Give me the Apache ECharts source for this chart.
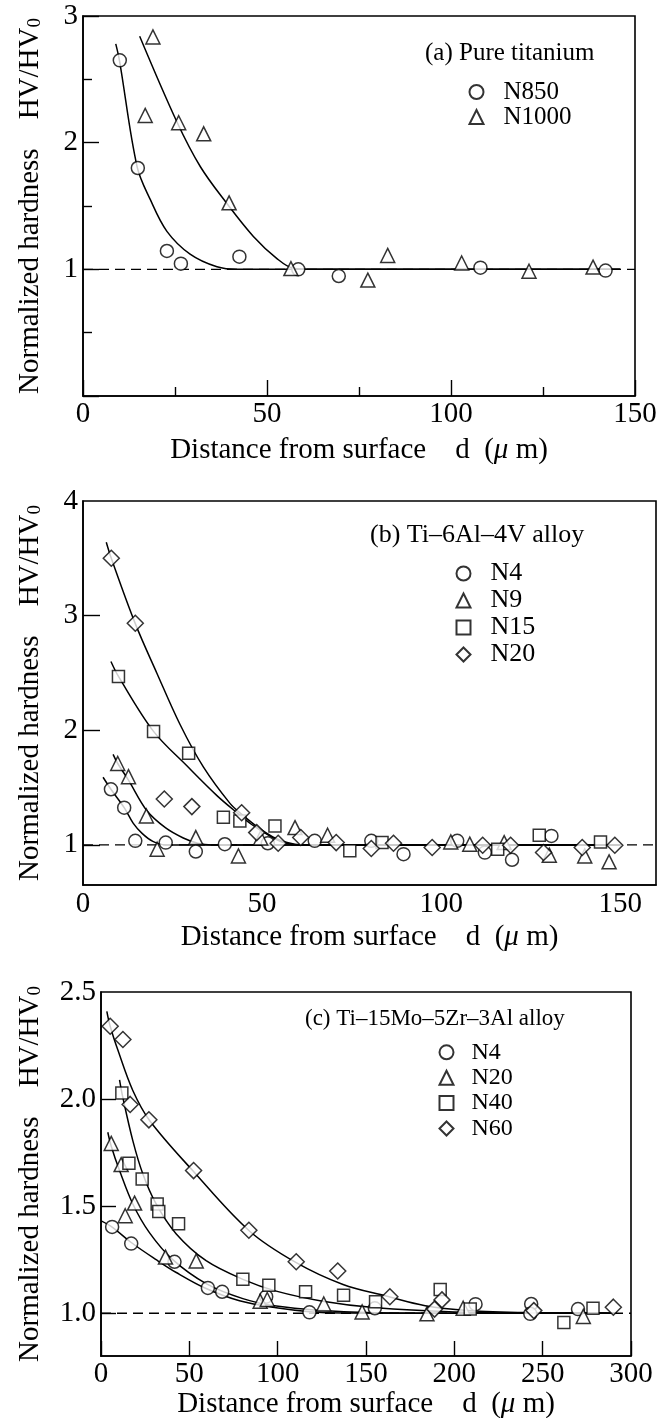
<!DOCTYPE html>
<html>
<head>
<meta charset="utf-8">
<script src="https://cdn.jsdelivr.net/npm/echarts@6/dist/echarts.min.js"></script>
<style>
html,body{margin:0;padding:0;background:#fff;}
#c{width:664px;height:1418px;}
</style>
</head>
<body>
<div id="c"></div>
<script>
const FONT = '"Liberation Serif","Times New Roman",serif';

// ---------- Panel (a) Pure titanium ----------
const a_N850 = [[10.0,2.65],[14.9,1.80],[22.8,1.145],[26.6,1.045],[42.5,1.10],[58.5,1.0],[69.5,0.947],[108,1.013],[142,0.99]];
const a_N1000 = [[19.0,2.835],[16.9,2.215],[26.0,2.157],[32.8,2.07],[39.7,1.525],[56.5,1.006],[77.4,0.915],[82.8,1.11],[102.9,1.05],[121.2,0.985],[138.6,1.018]];
const a_fit850 = [[8.9,2.78],[9.9,2.65],[14.7,1.81],[18.3,1.55],[22.8,1.30],[29.1,1.12],[36.4,1.02],[42,1.0],[80,1.0],[146,1.0]];
const a_fit1000 = [[15.4,2.84],[25.5,2.165],[31.9,1.81],[39.1,1.52],[46.3,1.26],[52.7,1.085],[57.2,1.008],[62,1.0],[100,1.0],[146,1.0]];
const a_ref = [[0,1],[150,1]];

// ---------- Panel (b) Ti-6Al-4V alloy ----------
const b_N4 = [[7.8,1.485],[11.5,1.325],[14.6,1.035],[23.1,1.02],[31.5,0.942],[39.6,1.006],[51.6,1.014],[64.7,1.035],[80.5,1.035],[89.5,0.919],[104.5,1.035],[112.2,0.933],[119.8,0.87],[130.8,1.078]];
const b_N9 = [[9.7,1.71],[12.7,1.595],[17.7,1.252],[20.7,0.962],[31.5,1.064],[43.4,0.904],[49.6,1.06],[59.2,1.151],[68.3,1.084],[102.7,1.026],[108,1.006],[117.6,1.02],[130.2,0.91],[140.1,0.904],[146.9,0.852]];
const b_N15 = [[9.9,2.47],[19.7,1.99],[29.5,1.80],[39.2,1.24],[43.8,1.209],[53.6,1.165],[74.5,0.948],[83.5,1.02],[115.8,0.962],[127.4,1.084],[144.5,1.026]];
const b_N20 = [[7.9,3.50],[14.6,2.934],[22.7,1.40],[30.4,1.334],[44.3,1.28],[48.5,1.107],[54.5,1.014],[60.8,1.064],[70.7,1.02],[80.5,0.968],[86.7,1.014],[97.5,0.977],[111.6,0.997],[119.4,0.997],[128.6,0.933],[139.4,0.977],[148.5,0.997]];
const b_fit4 = [[5.6,1.59],[7.8,1.485],[11.5,1.325],[14,1.19],[16.5,1.10],[19.5,1.03],[23,1.0],[60,1.0],[150,1.0]];
const b_fit9 = [[8.4,1.79],[9.7,1.71],[12.7,1.565],[17.8,1.30],[23,1.15],[28,1.06],[32,1.015],[36,1.0],[80,1.0],[150,1.0]];
const b_fit15 = [[7.8,2.60],[9.9,2.47],[19.7,1.99],[29.0,1.69],[37.4,1.43],[43.4,1.27],[47,1.18],[52,1.08],[56,1.02],[60,1.0],[100,1.0],[150,1.0]];
const b_fit20 = [[6.5,3.64],[7.9,3.50],[14.6,2.93],[20.6,2.50],[27.1,2.05],[33.6,1.68],[41.1,1.36],[44.6,1.26],[49,1.15],[53,1.07],[57,1.02],[61,1.0],[100,1.0],[150,1.0]];
const b_ref = [[0,1],[160,1]];

// ---------- Panel (c) Ti-15Mo-5Zr-3Al alloy ----------
const c_N4 = [[6.3,1.403],[17.1,1.325],[41.6,1.24],[60.5,1.118],[68.6,1.10],[93.5,1.077],[118,1.004],[155,1.023],[212,1.042],[243.5,1.043],[243,0.997],[270,1.019]];
const c_N20 = [[5.8,1.793],[11.4,1.694],[13.7,1.455],[19.0,1.514],[36.5,1.262],[53.9,1.244],[90.1,1.056],[94.1,1.064],[126.1,1.043],[147.8,1.006],[184.5,0.997],[205,1.023],[273,0.985]];
const c_N40 = [[11.8,2.028],[15.8,1.70],[23.3,1.627],[31.8,1.51],[32.7,1.475],[43.9,1.418],[80.3,1.158],[95,1.13],[115.8,1.10],[137.3,1.084],[155.4,1.053],[192,1.111],[209,1.019],[262,0.957],[278.5,1.023]];
const c_N60 = [[5.2,2.34],[12.4,2.278],[16.5,1.975],[27.1,1.903],[52.4,1.666],[83.7,1.387],[110.5,1.24],[134,1.197],[163.5,1.077],[193,1.062],[188.8,1.019],[245,1.012],[290,1.028]];
const c_fit4 = [[0.1,1.431],[6.7,1.40],[17.1,1.33],[31.2,1.25],[42.6,1.19],[59.5,1.115],[78.4,1.058],[99.2,1.025],[118,1.007],[137,1.001],[200,1.0],[292,1.0]];
const c_fit20 = [[3.85,1.845],[5.8,1.78],[10.5,1.666],[18,1.51],[27.5,1.375],[40.6,1.25],[59.5,1.138],[80.3,1.068],[99.2,1.033],[125.5,1.012],[150,1.003],[200,1.0],[292,1.0]];
const c_fit40 = [[10.5,2.09],[12.3,2.01],[18,1.806],[23.7,1.65],[31.2,1.51],[42.6,1.37],[59.5,1.245],[80.3,1.158],[99.2,1.103],[125.5,1.056],[155.8,1.025],[200,1.006],[250,1.0],[292,1.0]];
const c_fit60 = [[3.3,2.41],[5.2,2.34],[9.5,2.23],[18,2.04],[27.5,1.90],[52,1.665],[84,1.384],[110.5,1.236],[137,1.134],[161.4,1.08],[183.5,1.035],[207.5,1.013],[243.5,1.003],[292,1.0]];
const c_ref = [[0,1],[300,1]];

// tick labels
const a_xLabels = [0,50,100,150], a_yLabels = [1,2,3];
const b_xLabels = [0,50,100,150], b_yLabels = [1,2,3,4];
const c_xLabels = [0,50,100,150,200,250,300], c_yLabels = [1.0,1.5,2.0,2.5];

const X_NAME = 'Distance from surface    d  ({mu|μ} m)';
const Y_NAME = 'Normalized hardness    HV/HV{sub|0}';

const black = '#000';
const lblStyle = {color: black, fontFamily: FONT, fontSize: 29};
const xNameStyle = {color: black, fontFamily: FONT, fontSize: 29, rich: {mu: {fontFamily: FONT, fontSize: 29, fontStyle: 'italic', color: black}}};
const yNameStyle = {color: black, fontFamily: FONT, fontSize: 29, rich: {sub: {fontFamily: FONT, fontSize: 19, color: black, padding: [10,0,0,0]}}};
const lineSt = {color: black, width: 1.6};
const tickSt = {color: black, width: 1.4};

function gridCfg(l, t, w, h) {
  return {left: l, top: t, width: w, height: h, show: true, borderColor: black, borderWidth: 1.6,
          backgroundColor: 'transparent', containLabel: false, outerBoundsMode: 'none'};
}

function scatter(name, data, symbol, size, gi) {
  return {name, type: 'scatter', xAxisIndex: gi, yAxisIndex: gi, data, symbol, symbolSize: size,
          itemStyle: {color: '#fff', borderColor: black, borderWidth: 1.5}, z: 5,
          emphasis: {disabled: true}, silent: true};
}
function curve(name, data, gi) {
  return {name, type: 'line', xAxisIndex: gi, yAxisIndex: gi, data, smooth: 0.35,
          symbol: 'none', lineStyle: {color: black, width: 1.5}, z: 3, silent: true};
}
function refLine(name, data, gi) {
  return {name, type: 'line', xAxisIndex: gi, yAxisIndex: gi, data, symbol: 'none',
          lineStyle: {color: black, width: 1.4, type: [10, 6]}, z: 2, silent: true};
}

const legendBase = {orient: 'vertical', padding: 0, itemWidth: 14, itemHeight: 14, selectedMode: false,
  formatter: n => n.split(':')[1]};

const option = {
  animation: false,
  backgroundColor: '#fff',
  title: [
    {text: '(a) Pure titanium', left: 425, top: 41, padding: 0,
     textStyle: {fontFamily: FONT, fontSize: 25, fontWeight: 'normal', color: black}},
    {text: '(b) Ti–6Al–4V alloy', left: 370, top: 522, padding: 0,
     textStyle: {fontFamily: FONT, fontSize: 26, fontWeight: 'normal', color: black}},
    {text: '(c) Ti–15Mo–5Zr–3Al alloy', left: 305, top: 1007, padding: 0,
     textStyle: {fontFamily: FONT, fontSize: 23, fontWeight: 'normal', color: black}}
  ],
  legend: [
    Object.assign({}, legendBase, {data: ['a:N850', 'a:N1000'], left: 468.5, top: 79.5, itemGap: 0,
      textStyle: {fontFamily: FONT, fontSize: 25, color: black, lineHeight: 25, padding: [0,0,0,15]}}),
    Object.assign({}, legendBase, {data: ['b:N4', 'b:N9', 'b:N15', 'b:N20'], left: 455.5, top: 560, itemGap: 0,
      textStyle: {fontFamily: FONT, fontSize: 26, color: black, lineHeight: 27, padding: [0,0,0,15]}}),
    Object.assign({}, legendBase, {data: ['c:N4', 'c:N20', 'c:N40', 'c:N60'], left: 438.5, top: 1039.6, itemGap: 0,
      textStyle: {fontFamily: FONT, fontSize: 24, color: black, lineHeight: 25.4, padding: [0,0,0,13]}})
  ],
  grid: [
    gridCfg(83, 16, 552, 380),
    gridCfg(83, 501, 573, 384),
    gridCfg(101, 992, 530, 364)
  ],
  xAxis: [
    {gridIndex: 0, type: 'value', min: 0, max: 150, interval: 50,
     axisLine: {lineStyle: lineSt}, splitLine: {show: false},
     axisTick: {inside: true, length: 16, lineStyle: tickSt},
     minorTick: {show: true, splitNumber: 2, length: 9, lineStyle: tickSt}, minorSplitLine: {show: false},
     axisLabel: Object.assign({margin: 4, customValues: a_xLabels}, lblStyle),
     name: X_NAME, nameLocation: 'middle', nameGap: 40, nameTextStyle: xNameStyle},
    {gridIndex: 1, type: 'value', min: 0, max: 160,
     axisLine: {lineStyle: lineSt}, splitLine: {show: false},
     axisTick: {show: false},
     axisLabel: Object.assign({margin: 5, customValues: b_xLabels}, lblStyle),
     name: X_NAME, nameLocation: 'middle', nameGap: 38, nameTextStyle: xNameStyle},
    {gridIndex: 2, type: 'value', min: 0, max: 300, interval: 50,
     axisLine: {lineStyle: lineSt}, splitLine: {show: false},
     axisTick: {inside: true, length: 15, lineStyle: tickSt},
     axisLabel: Object.assign({margin: 4, customValues: c_xLabels}, lblStyle),
     name: X_NAME, nameLocation: 'middle', nameGap: 34, nameTextStyle: xNameStyle}
  ],
  yAxis: [
    {gridIndex: 0, type: 'value', min: 0, max: 3, interval: 1,
     axisLine: {lineStyle: lineSt}, splitLine: {show: false},
     axisTick: {inside: true, length: 16, lineStyle: tickSt},
     minorTick: {show: true, splitNumber: 2, length: 9, lineStyle: tickSt}, minorSplitLine: {show: false},
     axisLabel: Object.assign({margin: 5, customValues: a_yLabels}, lblStyle),
     name: Y_NAME, nameLocation: 'middle', nameRotate: 90, nameGap: 38, nameTextStyle: yNameStyle},
    {gridIndex: 1, type: 'value', min: 0.65, max: 4,
     axisLine: {lineStyle: lineSt}, splitLine: {show: false},
     axisTick: {inside: true, length: 17, lineStyle: tickSt, customValues: [1,2,3]},
     axisLabel: Object.assign({margin: 5, customValues: b_yLabels}, lblStyle),
     name: Y_NAME, nameLocation: 'middle', nameRotate: 90, nameGap: 38, nameTextStyle: yNameStyle},
    {gridIndex: 2, type: 'value', min: 0.8, max: 2.5,
     axisLine: {lineStyle: lineSt}, splitLine: {show: false},
     axisTick: {inside: true, length: 15, lineStyle: tickSt, customValues: [1,1.5,2]},
     axisLabel: Object.assign({margin: 5, customValues: c_yLabels, formatter: v => Number(v).toFixed(1)}, lblStyle),
     name: Y_NAME, nameLocation: 'middle', nameRotate: 90, nameGap: 56, nameTextStyle: yNameStyle}
  ],
  series: [
    refLine('a:ref', a_ref, 0),
    curve('a:fit850', a_fit850, 0),
    curve('a:fit1000', a_fit1000, 0),
    scatter('a:N850', a_N850, 'circle', 13, 0),
    scatter('a:N1000', a_N1000, 'triangle', 14, 0),

    refLine('b:ref', b_ref, 1),
    curve('b:fit4', b_fit4, 1),
    curve('b:fit9', b_fit9, 1),
    curve('b:fit15', b_fit15, 1),
    curve('b:fit20', b_fit20, 1),
    scatter('b:N4', b_N4, 'circle', 13, 1),
    scatter('b:N9', b_N9, 'triangle', 14, 1),
    scatter('b:N15', b_N15, 'rect', 12, 1),
    scatter('b:N20', b_N20, 'diamond', 16, 1),

    refLine('c:ref', c_ref, 2),
    curve('c:fit4', c_fit4, 2),
    curve('c:fit20', c_fit20, 2),
    curve('c:fit40', c_fit40, 2),
    curve('c:fit60', c_fit60, 2),
    scatter('c:N4', c_N4, 'circle', 13, 2),
    scatter('c:N20', c_N20, 'triangle', 14, 2),
    scatter('c:N40', c_N40, 'rect', 12, 2),
    scatter('c:N60', c_N60, 'diamond', 16, 2)
  ]
};

const chart = echarts.init(document.getElementById('c'), null, {renderer: 'canvas'});
chart.setOption(option);
</script>
</body>
</html>
